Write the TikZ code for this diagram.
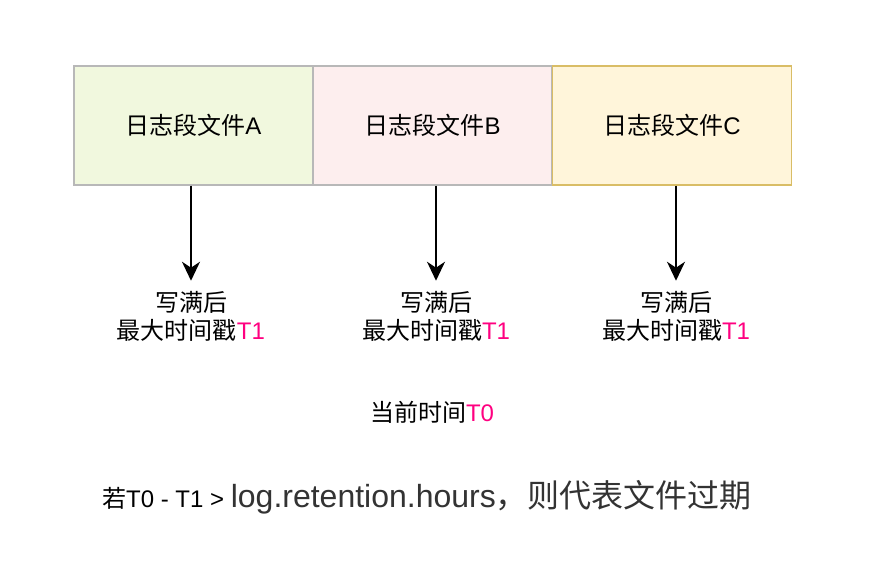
\documentclass[tikz,border=0pt]{standalone}
\usepackage{fontspec}
\setmainfont{Liberation Sans}
\newfontfamily\cjk{Noto Sans CJK SC}
\usepackage{tikz}
\usetikzlibrary{arrows.meta,positioning}

\definecolor{fillA}{HTML}{F1F8DE}
\definecolor{fillB}{HTML}{FDEEEE}
\definecolor{fillC}{HTML}{FFF5DA}
\definecolor{lineAB}{HTML}{B8B8B8}
\definecolor{lineC}{HTML}{D9BD66}
\definecolor{tpink}{HTML}{FF0080}
\definecolor{tgray}{HTML}{333333}

\newcommand{\wfull}{{\cjk 写满后}\\{\cjk 最大时间戳}\textcolor{tpink}{T1}}

\begin{document}
\begin{tikzpicture}[x=1pt,y=-1pt,->,>={Stealth[length=19pt,width=18pt,inset=6pt]},
  seg/.style={draw=lineAB,line width=1.5pt,minimum width=239pt,minimum height=119pt,
    inner sep=0pt,font=\fontsize{24pt}{28pt}\selectfont},
  note/.style={align=center,inner sep=0pt,font=\fontsize{24pt}{28pt}\selectfont}]
  \useasboundingbox (0,0) rectangle (880,564);

  \node[seg,fill=fillA] (segA) at (193.5,125.5) {{\cjk 日志段文件}A};
  \node[seg,fill=fillB] (segB) at (432.5,125.5) {{\cjk 日志段文件}B};
  \node[seg,fill=fillC,draw=lineC] (segC) at (672,125.5) {{\cjk 日志段文件}C};

  \node[note] (wA) at (191,316) {\wfull};
  \node[note] (wB) at (436,316) {\wfull};
  \node[note] (wC) at (676,316) {\wfull};

  \node[note] (now) at (432,412) {{\cjk 当前时间}\textcolor{tpink}{T0}};
  \node[note] (rule) at (427,497) {{\cjk 若}T0 - T1 >
    {\fontsize{32pt}{36pt}\selectfont\color{tgray}log.retention.hours{\cjk ，则代表文件过期}}};

  \path[line width=2pt,shorten >=10pt]
  (segA.south -| wA) edge (wA.north)
  (segB.south -| wB) edge (wB.north)
  (segC.south -| wC) edge (wC.north)
  ;
\end{tikzpicture}
\end{document}
